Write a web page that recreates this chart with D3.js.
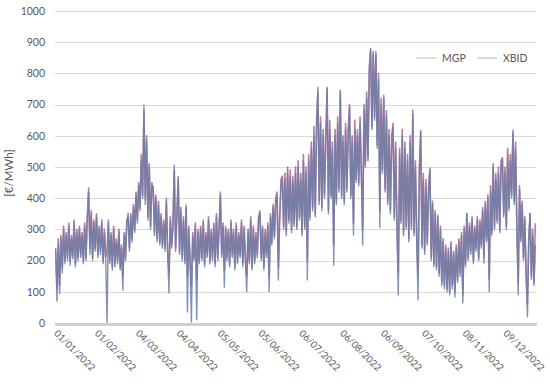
<!DOCTYPE html>
<html>
<head>
<meta charset="utf-8">
<script src="https://cdn.jsdelivr.net/npm/d3@7/dist/d3.min.js"></script>
<style>
  html, body { margin: 0; padding: 0; background: #fff; }
  svg { display: block; }
  text { font-family: Lato, "Open Sans", "DejaVu Sans", sans-serif; fill: #595959; }
</style>
</head>
<body>
<svg id="chart" width="550" height="383"></svg>
<script>
// ---- data (one reading per day, €/MWh) ----
const startDate = "2022-01-01";
const seriesNames = ["MGP", "XBID"];
const yTicks = [0, 100, 200, 300, 400, 500, 600, 700, 800, 900, 1000];
const xTickLabels = ["01/01/2022", "01/02/2022", "04/03/2022", "04/04/2022", "05/05/2022", "05/06/2022",
                     "06/07/2022", "06/08/2022", "06/09/2022", "07/10/2022", "08/11/2022", "09/12/2022"];

const mgp = [
  240,110,270,120,280,180,310,200,290,210,
  320,200,280,215,330,190,300,210,310,220,
  290,200,320,210,340,420,240,360,210,330,
  240,350,220,310,230,330,200,300,210,230,
  330,200,290,180,310,190,270,200,300,180,
  250,150,290,210,330,340,240,350,270,380,
  300,420,330,450,370,540,410,680,400,600,
  340,510,310,450,430,290,410,270,390,260,
  350,250,330,240,400,230,160,340,250,320,
  490,240,350,460,230,370,210,340,200,370,
  150,310,200,120,290,210,320,140,300,200,
  310,210,330,190,290,220,340,200,300,210,
  320,190,350,210,310,410,220,320,170,310,
  210,300,190,330,220,300,180,320,200,290,
  220,330,190,310,210,150,300,200,340,180,
  310,200,290,220,340,360,210,310,180,300,
  220,320,150,350,260,380,280,400,420,180,
  340,460,470,310,480,290,500,330,490,300,
  470,320,500,310,520,340,480,290,540,310,
  500,200,540,340,580,370,630,350,650,740,
  390,660,370,620,410,600,750,360,650,410,
  580,250,620,390,660,430,740,410,600,390,
  640,430,620,700,410,600,320,650,460,620,
  450,660,480,300,700,510,740,530,820,875,
  630,870,660,860,570,800,360,720,490,720,
  430,680,390,620,360,600,640,340,580,310,
  160,560,330,620,290,580,310,540,270,600,
  310,670,290,520,270,150,500,610,250,480,
  230,460,260,440,490,210,390,190,360,180,
  340,160,310,130,270,120,250,110,240,100,
  260,120,230,100,250,140,270,160,290,90,
  310,190,350,210,320,230,340,200,310,240,
  340,210,330,250,370,210,390,270,410,140,
  440,290,510,310,480,330,500,300,520,530,
  350,500,310,560,370,540,410,610,390,580,
  310,130,440,270,390,210,340,160,60,270,
  350,150,300,130,320
];

const xbid = [
  230,70,256,95,270,160,300,190,280,200,
  310,185,270,205,320,180,290,200,300,210,
  280,190,310,200,330,433,220,350,200,320,
  230,340,210,300,220,320,190,290,200,0,
  320,190,280,170,300,180,260,190,290,170,
  240,106,280,200,320,352,230,340,260,370,
  290,410,320,440,360,520,400,699,380,580,
  330,500,300,440,436,280,400,260,380,250,
  340,240,320,230,388,220,96,330,240,310,
  506,230,340,470,220,360,200,330,190,378,
  35,300,190,3,280,200,310,10,290,190,
  300,200,320,180,280,210,330,190,290,200,
  310,180,340,200,300,420,210,310,115,300,
  200,290,180,320,210,290,170,310,190,280,
  210,320,180,300,200,100,290,190,330,170,
  300,190,280,210,330,352,200,300,170,290,
  210,310,100,340,250,370,270,390,410,138,
  330,440,468,300,460,280,480,320,470,290,
  450,310,480,300,500,330,460,280,520,300,
  480,138,520,330,560,360,600,340,620,756,
  380,640,360,600,400,580,756,350,620,400,
  560,186,600,380,640,420,747,400,580,380,
  620,420,600,692,400,580,282,620,450,600,
  440,640,470,250,680,500,720,520,800,880,
  620,860,650,870,560,780,305,700,480,730,
  420,660,380,600,350,580,628,330,560,300,
  90,540,320,600,280,560,300,520,260,580,
  300,683,280,500,260,74,480,618,240,460,
  220,440,250,420,497,200,380,180,350,170,
  346,150,300,120,260,110,240,100,230,90,
  250,110,220,83,240,130,260,150,280,64,
  300,180,352,200,310,220,330,190,300,230,
  330,200,320,240,360,192,380,260,400,100,
  420,280,500,300,460,320,480,290,500,522,
  340,480,300,540,360,520,400,619,380,560,
  300,90,426,260,380,200,330,150,20,260,
  352,140,280,120,250
];

// ---- chart ----
const svg = d3.select("#chart");
const W = 550, H = 383;
const margin = { left: 55, right: 14, top: 11, bottom: 60 };
const plotL = margin.left, plotR = W - margin.right, plotT = margin.top, plotB = H - margin.bottom;

const parse = d3.utcParse("%Y-%m-%d");
const t0 = parse(startDate);
const t1 = d3.utcDay.offset(t0, 365);
const x = d3.scaleUtc().domain([t0, t1]).range([plotL, plotR]);
const y = d3.scaleLinear().domain([0, 1000]).range([plotB, plotT]);

const colors = { MGP: "#b56a98", XBID: "#6a7fa6" };

// gridlines
svg.append("g").selectAll("line").data(yTicks.filter(v => v > 0)).join("line")
  .attr("x1", plotL).attr("x2", plotR)
  .attr("y1", d => Math.round(y(d)) + 0.5).attr("y2", d => Math.round(y(d)) + 0.5)
  .attr("stroke", "#d9d9d9").attr("stroke-width", 1);

// y axis labels
const yAxis = d3.axisLeft(y).tickValues(yTicks).tickSize(0).tickPadding(0).tickFormat(d3.format("d"));
const ya = svg.append("g").attr("transform", `translate(${plotL - 10},0)`).call(yAxis);
ya.select(".domain").remove();
ya.selectAll("text").attr("font-size", "10.5px").attr("fill", "#595959")
  .style("font-family", "Lato, 'Open Sans', sans-serif");

// y title
svg.append("text")
  .attr("transform", `translate(13,${(plotT + plotB) / 2 + 6}) rotate(-90)`)
  .attr("text-anchor", "middle").attr("font-size", "11.5px").text("[€/MWh]");

// lines
const toPoints = arr => arr.map((v, i) => [d3.utcHour.offset(t0, i * 24 + 12), v]);
const line = d3.line().x(d => x(d[0])).y(d => y(d[1]));
const series = [
  { name: "MGP", values: mgp, opacity: 0.9, width: 1.6 },
  { name: "XBID", values: xbid, opacity: 0.85, width: 1.4 }
];
svg.append("g").selectAll("path").data(series).join("path")
  .attr("d", d => line(toPoints(d.values)))
  .attr("fill", "none")
  .attr("stroke", d => colors[d.name])
  .attr("stroke-opacity", d => d.opacity)
  .attr("stroke-width", d => d.width)
  .attr("stroke-linejoin", "round");

// x axis (thick grey baseline)
svg.append("line")
  .attr("x1", plotL).attr("x2", plotR + 1)
  .attr("y1", y(0) + 1.5).attr("y2", y(0) + 1.5)
  .attr("stroke", "#d0d0d0").attr("stroke-width", 3);

// x tick labels, every 31 days
const xTickDates = xTickLabels.map((_, k) => d3.utcDay.offset(t0, 31 * k));
const xa = svg.append("g").attr("transform", `translate(0,${y(0) + 9})`)
  .call(d3.axisBottom(x).tickValues(xTickDates).tickSize(0).tickPadding(0)
        .tickFormat((d, i) => xTickLabels[i]));
xa.select(".domain").remove();
xa.selectAll("text")
  .attr("text-anchor", "start")
  .attr("dy", "0")
  .attr("y", 0)
  .attr("transform", "translate(-2,2) rotate(45)")
  .attr("font-size", "9.6px").attr("fill", "#404040")
  .style("font-family", "Lato, 'Open Sans', sans-serif");

// legend
const legend = svg.append("g");
const legendItems = [
  { name: "MGP", x: 416 },
  { name: "XBID", x: 477 }
];
legendItems.forEach(it => {
  legend.append("line").attr("x1", it.x).attr("x2", it.x + 20)
    .attr("y1", 58).attr("y2", 58)
    .attr("stroke", colors[it.name]).attr("stroke-opacity", 0.55).attr("stroke-width", 1);
  legend.append("text").attr("x", it.x + 26).attr("y", 62)
    .attr("font-size", "10.5px").attr("fill", "#404040").text(it.name);
});
</script>
</body>
</html>
